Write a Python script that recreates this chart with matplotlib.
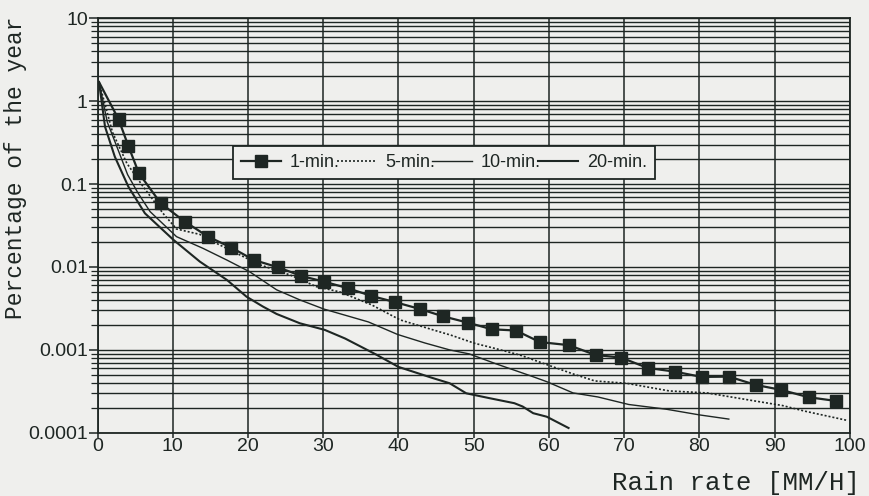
import matplotlib
matplotlib.use("Agg")
import matplotlib.pyplot as plt
from matplotlib.ticker import LogLocator, FixedLocator, NullFormatter, FixedFormatter

# ---------------- data ----------------
one_min_x = [0.2, 2.8, 4.1, 5.5, 8.4, 11.6, 14.7, 17.8, 20.8, 24.0, 27.1, 30.1,
             33.3, 36.4, 39.6, 42.9, 45.9, 49.2, 52.4, 55.6, 58.8, 62.6, 66.2,
             69.6, 73.1, 76.7, 80.3, 83.9, 87.5, 90.9, 94.5, 98.1]
one_min_y = [1.7, 0.605, 0.288, 0.135, 0.0587, 0.0352, 0.0232, 0.0171, 0.0121,
             0.0099, 0.00778, 0.00665, 0.00553, 0.00447, 0.00375, 0.0031,
             0.00254, 0.00213, 0.00177, 0.00171, 0.00124, 0.00114, 0.000867,
             0.000805, 0.000605, 0.000546, 0.000471, 0.000475, 0.000377,
             0.000328, 0.000268, 0.000242]

five_min_x = [0.2, 2.0, 3.9, 6.0, 8.7, 10.5, 13.6, 15.8, 18.9, 21.6, 25.6, 29.1,
              32.2, 36.4, 40.2, 44.6, 47.0, 50.1, 53.0, 56.1, 59.2, 63.2, 66.1,
              70.3, 76.0, 81.0, 87.3, 91.0, 94.0, 99.6]
five_min_y = [1.7, 0.42, 0.178, 0.095, 0.0444, 0.0287, 0.0247, 0.0193, 0.0140,
              0.0106, 0.0080, 0.00578, 0.0050, 0.0035, 0.0023, 0.00174, 0.00150,
              0.0012, 0.00103, 0.000867, 0.000689, 0.000512, 0.000421, 0.000395,
              0.000319, 0.000302, 0.000242, 0.000213, 0.000182, 0.000141]

ten_min_x = [0.2, 1.3, 2.8, 4.0, 5.4, 7.0, 10.5, 14.0, 17.2, 20.2, 23.8, 26.9,
             30.1, 36.0, 39.9, 43.5, 46.8, 49.4, 53.0, 57.6, 59.7, 63.2, 66.5,
             70.6, 75.6, 80.0, 83.9]
ten_min_y = [1.7, 0.56, 0.25, 0.13, 0.0774, 0.0464, 0.0232, 0.0168, 0.0121,
             0.00877, 0.0053, 0.0040, 0.0031, 0.00217, 0.00153, 0.00121,
             0.000998, 0.000893, 0.000676, 0.000484, 0.000413, 0.000302,
             0.00027, 0.000219, 0.000192, 0.000164, 0.000146]

twenty_min_x = [0.2, 1.0, 2.3, 4.1, 6.3, 10.1, 13.6, 17.2, 19.8, 22.0, 23.8,
                26.9, 30.2, 32.9, 37.0, 40.0, 44.5, 46.8, 49.0, 52.1, 55.4,
                56.5, 57.9, 59.7, 62.6]
twenty_min_y = [1.7, 0.492, 0.214, 0.0931, 0.0444, 0.0212, 0.0116, 0.00697,
                0.00438, 0.00332, 0.00271, 0.00209, 0.00174, 0.00137, 0.00088,
                0.000622, 0.000458, 0.000395, 0.000299, 0.000261, 0.000227,
                0.000207, 0.000172, 0.000156, 0.000114]

series_labels = ["1-min.", "5-min.", "10-min.", "20-min."]
x_ticks = [0, 10, 20, 30, 40, 50, 60, 70, 80, 90, 100]
y_ticks = [0.0001, 0.001, 0.01, 0.1, 1, 10]
y_tick_labels = ["0.0001", "0.001", "0.01", "0.1", "1", "10"]
x_label = "Rain rate [MM/H]"
y_label = "Percentage of the year"

# ---------------- style ----------------
BG = "#efefed"
INK = "#1e2623"

fig = plt.figure(figsize=(8.69, 4.96), dpi=100, facecolor=BG)
ax = fig.add_axes([0.1122, 0.1276, 0.8659, 0.8355], facecolor=BG)

ax.set_yscale("log")
ax.set_xlim(0, 100)
ax.set_ylim(1e-4, 10)

# grid
ax.xaxis.set_major_locator(FixedLocator(x_ticks))
ax.yaxis.set_major_locator(FixedLocator(y_ticks))
ax.yaxis.set_major_formatter(FixedFormatter(y_tick_labels))
ax.yaxis.set_minor_locator(LogLocator(base=10, subs=range(2, 10), numticks=20))
ax.yaxis.set_minor_formatter(NullFormatter())
ax.grid(True, axis="x", which="major", color=INK, linewidth=1.1)
ax.grid(True, axis="y", which="both", color=INK, linewidth=1.0)
ax.set_axisbelow(True)

for s in ax.spines.values():
    s.set_color(INK)
    s.set_linewidth(1.3)

ax.tick_params(axis="x", which="major", direction="out", length=3.5, width=1.1,
               pad=0.5, colors=INK, labelsize=14)
ax.tick_params(axis="y", which="major", direction="out", length=6.5, width=1.1,
               pad=0.5, colors=INK, labelsize=14)
ax.tick_params(axis="y", which="minor", direction="out", length=5, width=0.9,
               colors=INK)
for lab in ax.get_xticklabels() + ax.get_yticklabels():
    lab.set_fontfamily("Liberation Sans")

# series
ax.plot(one_min_x, one_min_y, color=INK, linewidth=1.6, marker="s",
        markersize=8.5, markevery=list(range(1, len(one_min_x))),
        label=series_labels[0], zorder=5)
ax.plot(five_min_x, five_min_y, color=INK, linewidth=1.2, linestyle=(0, (1.2, 1.2)),
        label=series_labels[1], zorder=4)
ax.plot(ten_min_x, ten_min_y, color=INK, linewidth=1.0,
        label=series_labels[2], zorder=4)
ax.plot(twenty_min_x, twenty_min_y, color=INK, linewidth=1.5,
        label=series_labels[3], zorder=4)

leg = ax.legend(loc="lower left", bbox_to_anchor=(0.1797, 0.6115, 0.5612, 0.0845),
                mode="expand", ncol=4, borderaxespad=0, frameon=True,
                fancybox=False, framealpha=1, facecolor=BG, edgecolor=INK,
                handlelength=2.2, handletextpad=0.5, columnspacing=0.4,
                numpoints=1, borderpad=0.45,
                prop={"family": "Liberation Sans", "size": 13})
leg.get_frame().set_linewidth(1.3)
for t in leg.get_texts():
    t.set_color(INK)

# labels
ax.set_xlabel(x_label, fontfamily="Liberation Mono", fontsize=18.5, color=INK,
              va="center", ha="center")
ax.xaxis.set_label_coords(0.8485, -0.1214)
ax.set_ylabel(y_label, fontfamily="Liberation Mono", fontsize=16.5, color=INK,
              va="center", ha="center")
ax.yaxis.set_label_coords(-0.1096, 0.64)

fig.savefig("out.png", dpi=100, facecolor=BG)
